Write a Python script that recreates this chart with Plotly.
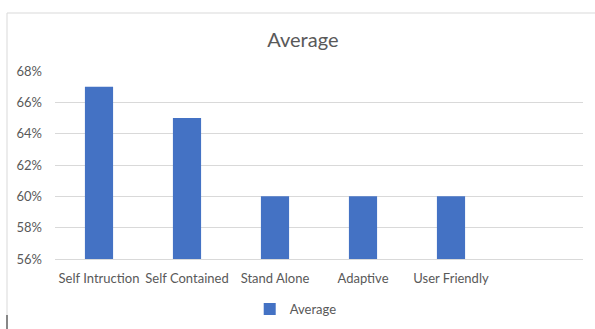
import plotly.graph_objects as go

categories = ["Self Intruction", "Self Contained", "Stand Alone", "Adaptive", "User Friendly"]
values = [0.67, 0.65, 0.60, 0.60, 0.60]
series_name = "Average"

FONT = "Lato, 'Open Sans', sans-serif"
GREY = "#595959"

fig = go.Figure()
fig.add_trace(go.Bar(
    x=categories, y=values, name=series_name,
    marker=dict(color="#4472C4", line=dict(width=0)),
    showlegend=True,
))

fig.update_layout(
    width=595, height=329,
    margin=dict(l=55, r=12, t=71, b=70, autoexpand=False),
    paper_bgcolor="white", plot_bgcolor="white",
    font=dict(family=FONT, color=GREY, size=13),
    bargap=0.68,
    title=dict(text="Average", x=0.509, xref="container", xanchor="center",
               y=1 - 40 / 329, yref="container", yanchor="middle",
               font=dict(size=20, color=GREY, family=FONT)),
    legend=dict(orientation="h", xref="container", x=0.497, xanchor="center",
                yref="container", y=1 - 309 / 329, yanchor="middle",
                font=dict(size=13, color=GREY), itemwidth=30),
    xaxis=dict(type="category", range=[-0.5, 5.5], showgrid=False,
               showline=True, linecolor="#d9d9d9", linewidth=1,
               ticks="", ticklabelstandoff=7, automargin=False,
               tickfont=dict(size=13, color=GREY), fixedrange=True),
    yaxis=dict(range=[0.56, 0.68], dtick=0.02, tickformat=".0%",
               showgrid=True, gridcolor="#d9d9d9", gridwidth=1,
               zeroline=False, showline=False, ticks="",
               ticklabelstandoff=12, automargin=False,
               tickfont=dict(size=13, color=GREY)),
)

# chart border (top & left visible)
x0 = (7 - 55) / 528
x1 = (595 - 55) / 528
ytop = (259 - 13) / 188
ybot = (259 - 329) / 188
fig.add_shape(type="line", xref="paper", yref="paper", x0=x0, x1=x1, y0=ytop, y1=ytop,
              line=dict(color="#d9d9d9", width=1))
fig.add_shape(type="line", xref="paper", yref="paper", x0=x0, x1=x0, y0=ytop, y1=ybot,
              line=dict(color="#d9d9d9", width=1))
fig.add_shape(type="line", xref="paper", yref="paper", x0=x0, x1=x0,
              y0=(259 - 315) / 188, y1=ybot, line=dict(color="#222222", width=1))

fig.write_html("out.html")
